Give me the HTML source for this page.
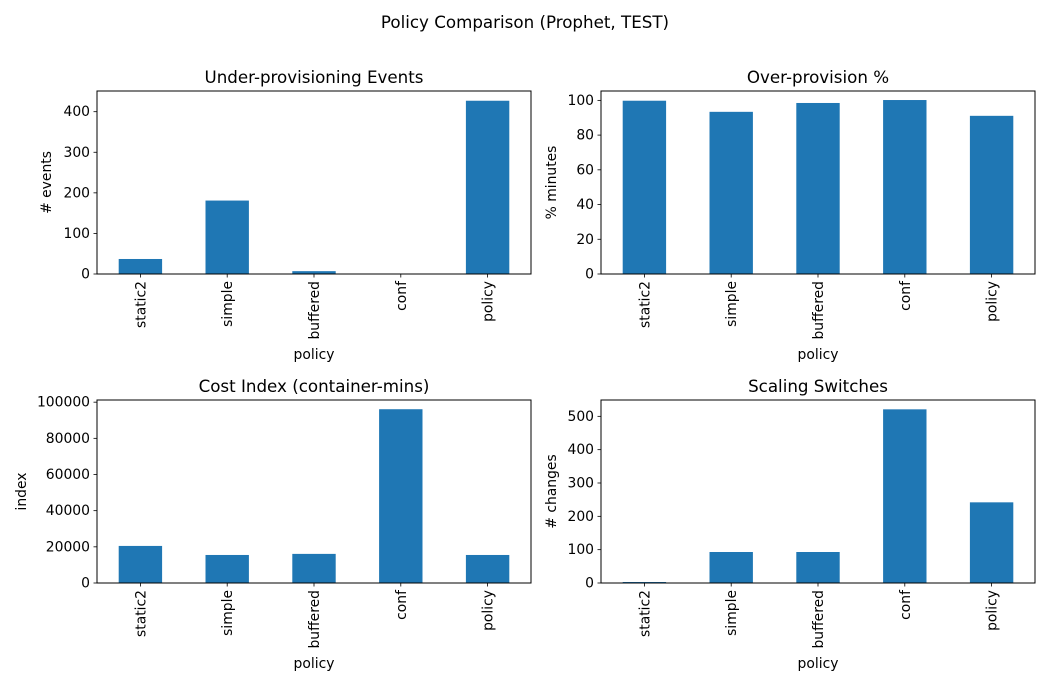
<!DOCTYPE html>
<html><head><meta charset="utf-8"><style>
body{margin:0;background:#fff;font-family:"DejaVu Sans","Liberation Sans",sans-serif;}
svg{display:block}
text{fill:#000}
</style></head><body>
<svg id="fig" width="1050" height="700" xmlns="http://www.w3.org/2000/svg">
<text x="525" y="28" font-size="16.7" text-anchor="middle">Policy Comparison (Prophet, TEST)</text>
</svg>
<script>
const categories = ["static2","simple","buffered","conf","policy"];
const underEvents = [37, 181, 7, 0, 427];
const overProv = [99.8, 93.4, 98.5, 100.2, 91.1];
const costIndex = [20500, 15500, 16100, 96100, 15500];
const switches = [3, 93, 93, 521, 242];
const ticksUnder = [0,100,200,300,400];
const ticksOver = [0,20,40,60,80,100];
const ticksCost = [0,20000,40000,60000,80000,100000];
const ticksSwitch = [0,100,200,300,400,500];

const NS = "http://www.w3.org/2000/svg";
const svg = document.getElementById('fig');
function mk(tag, attrs, parent){const e=document.createElementNS(NS,tag);for(const k in attrs)e.setAttribute(k,attrs[k]);(parent||svg).appendChild(e);return e;}

const panels = [
 {name:'under-provisioning', title:'Under-provisioning Events', ylabel:'# events', vals:underEvents, ticks:ticksUnder, ymax:451, x0:97, x1:531, y0:91, y1:274, ylx:51},
 {name:'over-provision', title:'Over-provision %', ylabel:'% minutes', vals:overProv, ticks:ticksOver, ymax:105.4, x0:601, x1:1035, y0:91, y1:274, ylx:556},
 {name:'cost-index', title:'Cost Index (container-mins)', ylabel:'index', vals:costIndex, ticks:ticksCost, ymax:101200, x0:97, x1:531, y0:400, y1:583, ylx:26},
 {name:'scaling-switches', title:'Scaling Switches', ylabel:'# changes', vals:switches, ticks:ticksSwitch, ymax:549, x0:601, x1:1035, y0:400, y1:583, ylx:556}
];

panels.forEach(p=>{
  const g = mk('g',{});
  
  
  const n = categories.length;
  const slot = (p.x1-p.x0)/n;
  const xs = i => p.x0 + slot*(i+0.5);
  const ys = v => p.y1 - v/p.ymax*(p.y1-p.y0);
  p.vals.forEach((v,i)=>{
    const r = mk('rect',{x:xs(i)-slot/4, y:ys(v), width:slot/2, height:p.y1-ys(v), fill:'#1f77b4'}, g);
    
    
  });
  const fr = mk('rect',{x:p.x0,y:p.y0,width:p.x1-p.x0,height:p.y1-p.y0,fill:'none',stroke:'#000','stroke-width':1},g);
  
  
  p.ticks.forEach(t=>{
    const y = ys(t);
    mk('line',{x1:p.x0-3.5,x2:p.x0,y1:y,y2:y,stroke:'#000','stroke-width':0.8},g);
    const tx = mk('text',{x:p.x0-7,y:y+4.5,'font-size':13.9,'text-anchor':'end'},g);
    tx.textContent = t;
    
    
  });
  categories.forEach((c,i)=>{
    const x = xs(i);
    mk('line',{x1:x,x2:x,y1:p.y1,y2:p.y1+3.5,stroke:'#000','stroke-width':0.8},g);
    const tx = mk('text',{x:0,y:0,'font-size':13.9,'text-anchor':'end',transform:`translate(${x+5},${p.y1+7}) rotate(-90)`},g);
    tx.textContent = c;
    
    
  });
  const tt = mk('text',{x:(p.x0+p.x1)/2,y:p.y0-8,'font-size':16.7,'text-anchor':'middle'},g);
  tt.textContent = p.title;
  
  
  const yl = mk('text',{x:0,y:0,'font-size':13.9,'text-anchor':'middle',transform:`translate(${p.ylx},${(p.y0+p.y1)/2}) rotate(-90)`},g);
  yl.textContent = p.ylabel;
  
  
  const xl = mk('text',{x:(p.x0+p.x1)/2,y:p.y1+85,'font-size':13.9,'text-anchor':'middle'},g);
  xl.textContent = 'policy';
  
  
});
</script>
</body></html>
